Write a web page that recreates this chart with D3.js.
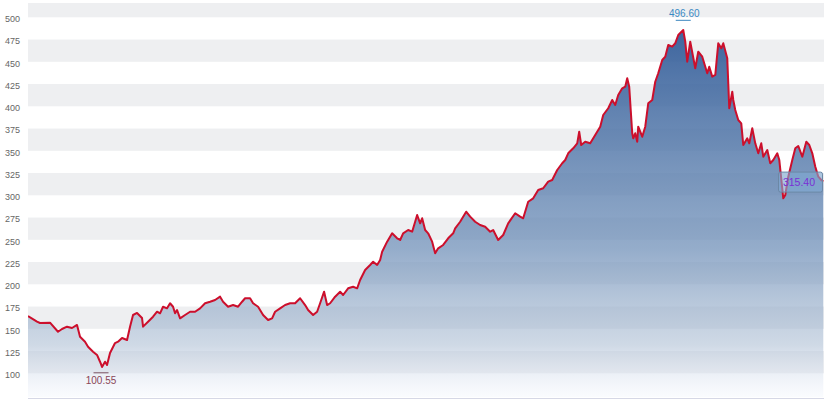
<!DOCTYPE html>
<html><head><meta charset="utf-8">
<script src="https://cdn.jsdelivr.net/npm/d3@7"></script>
<style>html,body{margin:0;padding:0;background:#fff;}svg{display:block;font-family:"Liberation Sans",Arial,sans-serif;}</style>
</head><body>
<svg id="chart" width="830" height="406"></svg>
<script>
const days = [0,9,12,22,30,34,39,44,49,52,57,60,65,69,72,74,77,79,82,87,
90,94,99,102,105,109,114,115,120,125,129,132,135,139,142,145,147,149,152,157,
162,167,172,177,182,187,192,195,200,205,210,214,217,222,225,230,235,240,244,247,
252,257,262,267,272,277,280,285,289,292,296,299,302,307,312,315,320,325,329,332,
337,342,345,349,352,354,359,364,369,372,375,380,384,387,389,392,394,397,400,404,
407,410,415,420,425,427,432,438,442,447,452,457,462,465,470,475,480,487,492,495,
500,505,510,515,520,524,529,534,537,540,545,549,551,553,557,562,567,572,575,580,
584,587,590,594,597,599,601,604,605,607,609,610,614,617,620,624,627,630,634,637,
640,644,647,650,655,657,659,662,667,670,674,679,681,684,687,690,693,695,699,701,
704,705,707,710,713,715,719,721,724,727,730,733,735,739,742,745,749,751,755,757,
760,764,767,770,774,778,781,784,787,790,793,795];
const prices = [164.4,158.0,156.5,156.9,146.7,149.8,152.4,150.9,154.3,141.1,
135.5,129.9,124.3,120.6,113.0,107.1,113.0,109.3,122.8,134.0,
135.5,139.7,137.4,152.4,165.5,167.8,162.1,152.4,158.0,163.6,
169.2,167.4,174.8,173.0,178.7,174.8,167.4,171.1,161.8,165.5,
169.2,169.2,173.0,178.7,180.4,182.4,186.1,180.4,174.8,176.7,
174.8,180.4,184.3,184.3,178.7,174.8,165.5,159.9,161.8,169.2,
173.0,176.7,178.7,178.7,184.3,176.7,171.1,165.5,169.2,178.7,
191.7,176.7,178.7,186.1,191.7,188.0,195.5,197.3,195.5,204.8,
216.1,221.7,225.4,221.7,227.3,236.6,247.9,257.3,251.7,249.8,
257.3,261.0,259.1,270.3,277.9,268.5,274.2,261.0,257.3,247.9,
234.8,240.4,244.2,251.7,257.3,262.9,270.3,281.6,276.0,270.3,
266.6,264.7,259.1,261.0,249.8,255.4,268.5,279.8,276.0,274.2,
292.8,296.6,306.0,307.9,315.3,317.2,328.4,336.0,339.7,347.2,
352.8,358.4,371.5,356.5,360.2,358.4,367.8,377.1,390.2,397.8,
407.1,401.5,412.7,420.2,422.0,431.5,422.0,369.7,364.0,369.7,
360.2,377.1,365.8,377.1,403.4,407.1,427.6,437.1,452.0,455.7,
468.9,467.0,470.8,480.1,485.7,472.6,450.1,472.6,442.7,461.3,
455.7,437.1,444.5,433.3,435.2,470.8,465.2,470.8,453.9,397.8,
416.4,407.1,395.8,384.6,380.9,356.5,364.0,358.4,375.3,358.4,
347.2,358.4,343.4,350.9,336.0,339.7,347.2,339.7,296.6,300.3,
320.9,339.7,352.8,355.4,343.4,360.2,356.5,347.2,332.1,320.9,
317.2,315.4];
const yTicks = [100,125,150,175,200,225,250,275,300,325,350,375,400,425,450,475,500];
const lowPoint = {day: 73, value: 100.55, label: "100.55"};
const highPoint = {day: 655, value: 496.60, label: "496.60"};
const lastLabel = "315.40";
const lastValue = 315.40;

const svg = d3.select("#chart");
const plot = {left: 28, right: 824, top: 3, bottom: 397};
const x = d3.scaleLinear().domain([0, 795]).range([28, 823.3]);
const y = d3.scaleLinear().domain([100, 500]).range([373.3, 17.3]);

const defs = svg.append("defs");
defs.append("clipPath").attr("id","clip").append("rect")
  .attr("x",plot.left).attr("y",plot.top).attr("width",plot.right-plot.left).attr("height",plot.bottom-plot.top);
const grad = defs.append("linearGradient").attr("id","areaGrad")
  .attr("gradientUnits","userSpaceOnUse").attr("x1",0).attr("x2",0).attr("y1",y(490)).attr("y2",plot.bottom);
[[0,"rgb(45,88,150)",0.92],[0.6,"rgb(113,145,185)",0.75],[0.86,"rgb(175,192,213)",0.6],[1,"rgb(238,242,252)",0.3]]
  .forEach(s=>grad.append("stop").attr("offset",s[0]).attr("stop-color",s[1]).attr("stop-opacity",s[2]));

const g = svg.append("g").attr("clip-path","url(#clip)");
// alternating bands
const bandStarts = d3.range(100, 526, 50);
g.selectAll("rect.band").data(bandStarts).join("rect").attr("class","band")
  .attr("x",plot.left).attr("width",plot.right-plot.left)
  .attr("y",d=>y(d+25)).attr("height",d=>y(d)-y(d+25))
  .attr("fill","#eeeff1");

const data = days.map((d,i)=>({d, v: prices[i]}));
const area = d3.area().x(p=>x(p.d)).y0(plot.bottom).y1(p=>y(p.v));
const line = d3.line().x(p=>x(p.d)).y(p=>y(p.v));
g.append("path").datum(data).attr("d",area).attr("fill","url(#areaGrad)");
g.append("path").datum(data).attr("d",line).attr("fill","none")
  .attr("stroke","#cc0f2c").attr("stroke-width",2).attr("stroke-linejoin","round");

// x axis line
svg.append("line").attr("x1",plot.left).attr("x2",plot.right).attr("y1",398.5).attr("y2",398.5)
  .attr("stroke","#d6d8e6").attr("stroke-width",1);

// y axis labels
const yAxis = d3.axisLeft(y).tickValues(yTicks).tickSize(0).tickPadding(0);
const ya = svg.append("g").attr("transform","translate(20,1.5)").call(yAxis);
ya.select(".domain").remove();
ya.selectAll("text").attr("font-size","9px").attr("fill","#666").attr("font-family","Liberation Sans, Arial, sans-serif");

// low marker
svg.append("line").attr("x1",x(lowPoint.day)-7.5).attr("x2",x(lowPoint.day)+7.5)
  .attr("y1",y(lowPoint.value)).attr("y2",y(lowPoint.value)).attr("stroke","#7a5060").attr("stroke-width",1);
svg.append("text").attr("x",x(lowPoint.day)).attr("y",y(lowPoint.value)+11)
  .attr("text-anchor","middle").attr("font-size","10px").attr("fill","#8a4658").text(lowPoint.label);
// high marker
svg.append("line").attr("x1",x(highPoint.day)-7.5).attr("x2",x(highPoint.day)+7.5)
  .attr("y1",y(highPoint.value)).attr("y2",y(highPoint.value)).attr("stroke","#3c86bf").attr("stroke-width",1);
svg.append("text").attr("x",x(highPoint.day)+1).attr("y",y(highPoint.value)-3)
  .attr("text-anchor","middle").attr("font-size","10px").attr("fill","#3a8ac4").text(highPoint.label);
// last value label
const ly = y(lastValue);
svg.append("rect").attr("x",778.5).attr("y",ly-9.5).attr("width",44).attr("height",20).attr("rx",2)
  .attr("fill","rgba(130,172,214,0.6)").attr("stroke","#6b88a6").attr("stroke-width",1);
svg.append("text").attr("x",799).attr("y",ly+4).attr("text-anchor","middle")
  .attr("font-size","10.5px").attr("fill","#7a2fd6").text(lastLabel);
</script>
</body></html>
